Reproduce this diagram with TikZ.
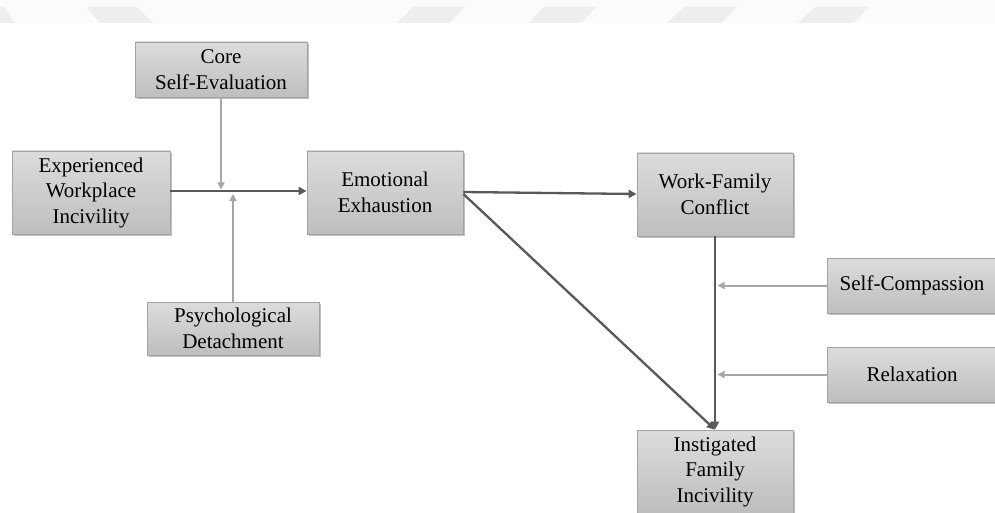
\documentclass[tikz,border=0pt]{standalone}
\usepackage{fontspec}
\setmainfont{Liberation Serif}
\usetikzlibrary{arrows.meta,shadows,calc}
\definecolor{boxtop}{HTML}{DCDCDC}
\definecolor{boxbot}{HTML}{BEBEBE}
\definecolor{boxline}{HTML}{A3A3A3}
\definecolor{mainline}{HTML}{595959}
\definecolor{modline}{HTML}{A6A6A6}
\definecolor{wmark}{HTML}{EEEEEE}
\definecolor{wband}{HTML}{FBFBFB}
\tikzset{
  varbox/.style={rectangle, draw=boxline, line width=0.8pt,
    top color=boxtop, bottom color=boxbot, inner sep=0pt,
    align=center, font=\fontsize{21pt}{25.5pt}\selectfont, text=black,
    drop shadow={shadow xshift=1.5pt, shadow yshift=-2pt, fill=black, opacity=0.25}},
  mainarrow/.style={draw=mainline, line width=2.3pt,
    -{Triangle[length=8pt,width=8pt]}},
  modarrow/.style={draw=modline, line width=2pt,
    -{Triangle[length=7pt,width=7pt]}},
  wm/.style={fill=wmark, draw=none}
}
\begin{document}
\begin{tikzpicture}[x=1pt,y=-1pt]
\useasboundingbox (0,0) rectangle (995,513);
\fill[white] (0,0) rectangle (995,513);
% watermark band
\fill[wband] (0,0) rectangle (995,23);
\fill[wm] (0,7) -- (5,7) -- (14,23) -- (0,23) -- cycle;
\fill[wm] (86,7) -- (137,7) -- (153,23) -- (100,23) -- cycle;
\fill[wm] (413,7) -- (465,7) -- (449,23) -- (397,23) -- cycle;
\fill[wm] (544,7) -- (596,7) -- (581,23) -- (529,23) -- cycle;
\fill[wm] (684,7) -- (737,7) -- (721,23) -- (667,23) -- cycle;
\fill[wm] (815,7) -- (869,7) -- (853,23) -- (798,23) -- cycle;

% boxes
\node[varbox, minimum width=172pt, minimum height=55pt] (cse) at (221,69.5) {Core\\Self-Evaluation};
\node[varbox, minimum width=158pt, minimum height=83pt] (ewi) at (91,192.5) {Experienced\\Workplace\\Incivility};
\node[varbox, minimum width=156pt, minimum height=83pt] (ee) at (385,192.5) {Emotional\\Exhaustion};
\node[varbox, minimum width=172pt, minimum height=53pt] (pd) at (233,328.5) {Psychological\\Detachment};
\node[varbox, minimum width=156pt, minimum height=83pt] (wfc) at (715,194.5) {Work-Family\\Conflict};
\node[varbox, minimum width=170pt, minimum height=55pt] (sc) at (912,285.5) {Self-Compassion};
\node[varbox, minimum width=170pt, minimum height=55pt] (rel) at (912,374.5) {Relaxation};
\node[varbox, minimum width=156pt, minimum height=83pt] (ifi) at (715,471.5) {Instigated\\Family\\Incivility};

% junction points
\coordinate (jcse) at (221,189.5);
\coordinate (jpd) at (233,194);
\coordinate (jsc) at (717.5,285.5);
\coordinate (jrel) at (717.5,374.5);

% connectors
\draw[mainarrow] (ewi.east |- 0,191) -- (ee.west |- 0,191);
\draw[modarrow] (cse.south) -- (jcse);
\draw[modarrow] (pd.north) -- (jpd);
\draw[mainarrow] (ee.east |- 0,192) -- (wfc.west |- 0,194);
\draw[mainarrow] (ee.east |- 0,194) -- (ifi.north);
\draw[mainarrow] (wfc.south) -- (ifi.north);
\draw[modarrow] (sc.west) -- (jsc);
\draw[modarrow] (rel.west) -- (jrel);
\end{tikzpicture}
\end{document}
